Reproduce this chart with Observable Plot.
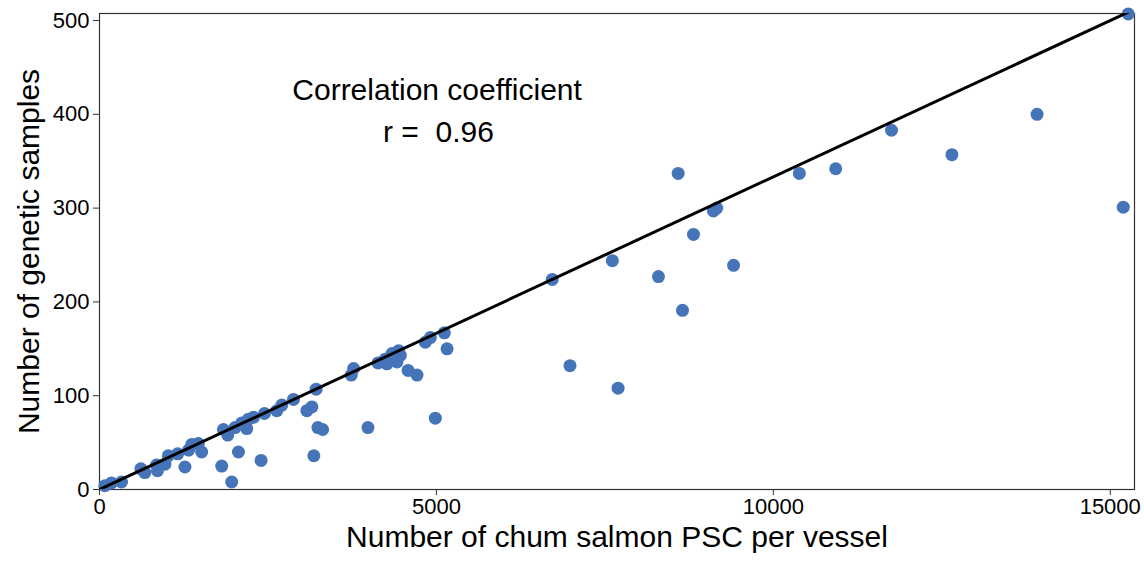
<!DOCTYPE html>
<html>
<head>
<meta charset="utf-8">
<script src="https://cdn.jsdelivr.net/npm/d3@7"></script>
<script src="https://cdn.jsdelivr.net/npm/@observablehq/plot@0.6"></script>
<style>
  html, body { margin: 0; padding: 0; background: #fff; }
  #chart svg { display: block; }
</style>
</head>
<body>
<div id="chart"></div>
<script>
// Number of chum salmon PSC per vessel (x) and number of genetic samples (y)
const psc = [
  79, 178, 327, 614, 673, 847, 860, 971, 1021, 1160, 1268, 1323, 1368, 1467, 1516,
  1814, 1839, 1903, 1962, 2011, 2062, 2111, 2185, 2210, 2285, 2398, 2448, 2631, 2706,
  2879, 3077, 3152, 3181, 3215, 3241, 3311, 3736, 3771, 3984, 4133, 4241, 4266, 4341,
  4415, 4440, 4464, 4579, 4712, 4836, 4910, 4984, 5118, 5158, 6719, 6982, 7611, 7696,
  8295, 8588, 8652, 8815, 9110, 9160, 9410, 10386, 10926, 11754, 12650, 13914, 15193, 15267
];
const samples = [
  4, 7, 8, 22, 18, 26, 20, 27, 36, 38, 24, 42, 48, 49, 40,
  25, 64, 58, 8, 66, 40, 71, 65, 75, 77, 31, 81, 84, 90,
  96, 84, 88, 36, 107, 66, 64, 122, 129, 66, 135, 139, 134, 145,
  136, 148, 143, 127, 122, 157, 162, 76, 167, 150, 224, 132, 244, 108,
  227, 337, 191, 272, 297, 300, 239, 337, 342, 383, 357, 400, 301, 507
];
// reference line: one genetic sample per 30 salmon
const samplingRate = 30;
const xDomain = [0, 15360];
const yDomain = [0, 507.5];
const xTicks = [0, 5000, 10000, 15000];
const yTicks = [0, 100, 200, 300, 400, 500];
const xLabel = "Number of chum salmon PSC per vessel";
const yLabel = "Number of genetic samples";
const noteLines = ["Correlation coefficient", "r =  0.96"];
const noteX = [5010, 5030];
const noteY = [426, 381];

const data = psc.map((x, i) => ({x, y: samples[i]}));
const notes = noteLines.map((t, i) => ({t, x: noteX[i], y: noteY[i]}));
const refLine = xDomain.map(x => ({x, y: x / samplingRate}));

const chart = Plot.plot({
  width: 1144,
  height: 561,
  marginLeft: 99,
  marginRight: 10,
  marginTop: 13,
  marginBottom: 72,
  style: {fontFamily: "'Liberation Sans', Arial, sans-serif", background: "#fff", color: "#000"},
  x: {domain: xDomain},
  y: {domain: yDomain},
  marks: [
    Plot.frame({stroke: "#333", strokeWidth: 1.2}),
    Plot.axisX({ticks: xTicks, tickFormat: d => String(d), tickSize: 6, tickPadding: 3, fontSize: 22, label: null, stroke: "#333"}),
    Plot.axisY({ticks: yTicks, tickFormat: d => String(d), tickSize: 6, tickPadding: 4, fontSize: 22, label: null, stroke: "#333"}),
    Plot.dot(data, {x: "x", y: "y", r: 6.5, fill: "#4674b9", stroke: "none"}),
    Plot.line(refLine, {x: "x", y: "y", stroke: "#000", strokeWidth: 3, clip: true}),
    Plot.text(notes, {x: "x", y: "y", text: "t", fontSize: 30, fill: "#000"}),
    Plot.text([xLabel], {frameAnchor: "bottom", dy: 57, fontSize: 30, fill: "#000"}),
    Plot.text([yLabel], {frameAnchor: "left", textAnchor: "middle", rotate: -90, dx: -70, fontSize: 30, fill: "#000"})
  ]
});
document.getElementById("chart").appendChild(chart);
</script>
</body>
</html>
